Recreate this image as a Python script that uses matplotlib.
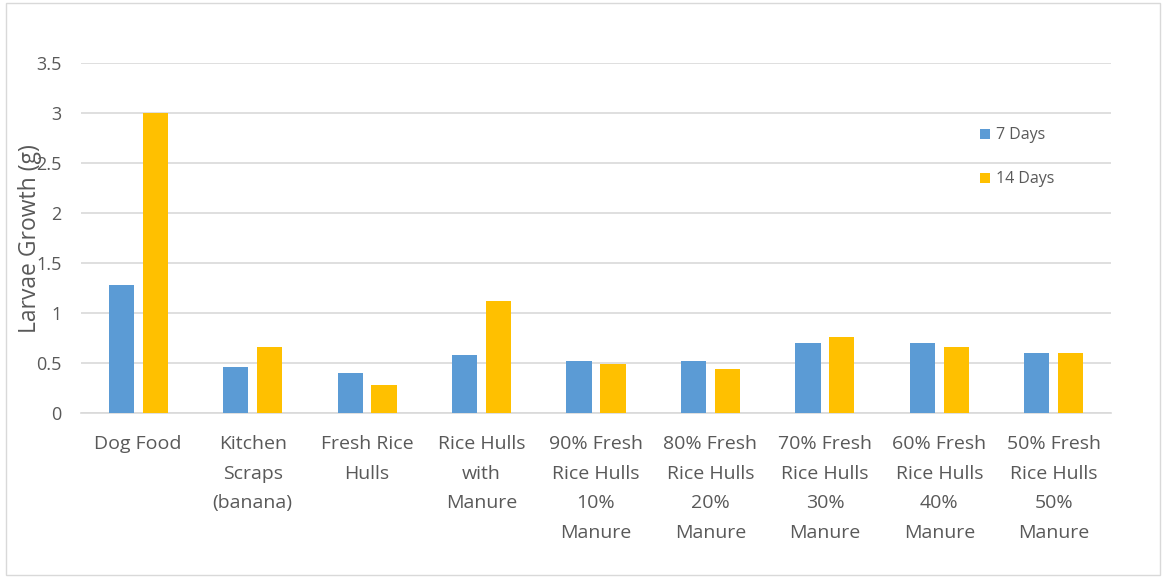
import matplotlib
matplotlib.use("Agg")
import matplotlib.pyplot as plt
from matplotlib.patches import Rectangle
import numpy as np

categories = ["Dog Food", "Kitchen\nScraps\n(banana)", "Fresh Rice\nHulls", "Rice Hulls\nwith\nManure",
              "90% Fresh\nRice Hulls\n10%\nManure", "80% Fresh\nRice Hulls\n20%\nManure",
              "70% Fresh\nRice Hulls\n30%\nManure", "60% Fresh\nRice Hulls\n40%\nManure",
              "50% Fresh\nRice Hulls\n50%\nManure"]
days7 = [1.28, 0.46, 0.40, 0.58, 0.52, 0.52, 0.70, 0.70, 0.60]
days14 = [3.00, 0.66, 0.28, 1.12, 0.49, 0.44, 0.76, 0.66, 0.60]
yticks = [0, 0.5, 1, 1.5, 2, 2.5, 3, 3.5]
yticklabels = ["0", "0.5", "1", "1.5", "2", "2.5", "3", "3.5"]

plt.rcParams['font.family'] = ['Open Sans', 'DejaVu Sans']
W, H = 1163, 577
fig = plt.figure(figsize=(W/100, H/100), dpi=100)
fig.patches.append(Rectangle((6/W, 2/H), 1 - 9/W, 1 - 5/H, transform=fig.transFigure,
                             fill=False, edgecolor="#d9d9d9", linewidth=1))
ax = fig.add_axes([81/W, (H-413)/H, (1111-81)/W, (413-63)/H])

x = np.arange(len(categories))
bw = 0.22
ax.bar(x - 0.148, days7, bw, color="#5B9BD5", label="7 Days", zorder=3)
ax.bar(x + 0.148, days14, bw, color="#FFC000", label="14 Days", zorder=3)

ax.set_xlim(-0.5, len(categories) - 0.5)
ax.set_ylim(0, 3.5)
ax.set_yticks(yticks)
ax.set_yticklabels(yticklabels, fontsize=13)
ax.yaxis.grid(True, color="#d9d9d9", linewidth=1.2, zorder=0)
ax.set_xticks(x)
ax.set_xticklabels(categories, linespacing=1.82, va="top", fontsize=14)
for s in ["top", "right", "left"]:
    ax.spines[s].set_visible(False)
ax.spines["bottom"].set_color("#d9d9d9")
ax.spines["bottom"].set_linewidth(1.2)
ax.tick_params(axis="both", length=0, colors="#595959")
ax.tick_params(axis="x", pad=16)
ax.tick_params(axis="y", pad=14)

fig.text(30/W, (H-239)/H, "Larvae Growth (g)", rotation=90, ha="center", va="center",
         fontsize=16.5, color="#595959")

leg = ax.legend(loc="upper left", bbox_to_anchor=((966-81)/(1111-81), 1 - (113-63)/(413-63)),
                frameon=False, fontsize=11.5, handlelength=0.6, handleheight=0.6,
                handletextpad=0.4, labelspacing=1.75)
for t in leg.get_texts():
    t.set_color("#595959")

fig.savefig("out.png", dpi=100)
